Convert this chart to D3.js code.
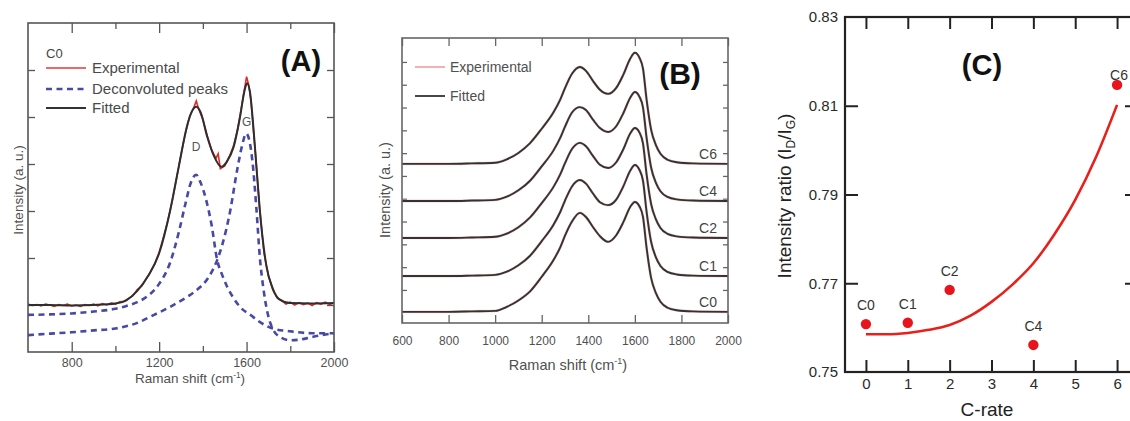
<!DOCTYPE html>
<html>
<head>
<meta charset="utf-8">
<script src="https://cdn.jsdelivr.net/npm/d3@7"></script>
<style>
  body { margin: 0; background: #fff; }
  svg { display: block; font-family: "Liberation Sans", Arial, Helvetica, sans-serif; }
</style>
</head>
<body>
<svg id="fig" width="1130" height="421"></svg>
<script>
// ---------- panel A : C0 spectrum with deconvolution ----------
const aExpX = [600,620,640,660,680,700,720,740,760,780,800,820,840,860,880,900,920,940,960,980,
  1000,1020,1040,1060,1080,1100,1120,1140,1160,1180,1200,1220,1240,1260,1280,1300,1320,1340,1360,1370,
  1380,1400,1420,1440,1460,1470,1480,1500,1520,1540,1560,1580,1600,1610,1620,1640,1660,1680,1700,1720,
  1740,1760,1780,1800,1820,1840,1860,1880,1900,1920,1940,1960,1980,2000];
const aExpY = [1.02,0.99,1.01,0.98,1.02,1.00,0.97,1.01,0.99,1.02,0.98,1.00,0.97,1.01,0.99,1.02,0.98,1.03,1.00,1.04,
  1.02,1.07,1.08,1.14,1.20,1.33,1.40,1.55,1.70,1.88,2.12,2.45,2.80,3.22,3.70,4.20,4.65,5.02,5.22,5.34,
  5.18,4.95,4.60,4.30,4.12,4.22,3.90,3.96,4.15,4.38,4.75,5.30,5.86,5.68,5.35,4.25,3.05,2.10,1.62,1.32,
  1.15,1.10,1.02,1.06,1.00,1.05,1.01,1.04,0.99,1.05,1.02,1.06,1.01,1.05];

const aFitX = [600,700,800,900,1000,1050,1100,1150,1200,1250,1290,1330,1350,1370,1390,1420,1450,1485,
  1510,1540,1570,1590,1602,1615,1630,1645,1660,1690,1720,1750,1800,1900,2000];
const aFitY = [1.00,1.00,0.99,1.00,1.03,1.10,1.30,1.62,2.10,3.00,3.95,4.85,5.12,5.22,5.10,4.58,4.18,3.94,
  4.05,4.35,5.00,5.55,5.72,5.55,4.85,3.95,3.05,1.85,1.35,1.12,1.04,1.03,1.04];

const aDX = [600,700,800,900,1000,1050,1100,1150,1200,1250,1290,1320,1345,1369,1390,1417,1440,1465,
  1490,1510,1540,1570,1620,1660,1720,1800,1900,2000];
const aDY = [0.79,0.80,0.82,0.86,0.92,0.98,1.06,1.20,1.45,1.90,2.55,3.15,3.60,3.77,3.60,3.20,2.70,1.97,
  1.62,1.40,1.15,0.96,0.78,0.64,0.50,0.44,0.40,0.40];

const aGX = [600,700,800,900,1000,1100,1172,1250,1327,1380,1420,1465,1490,1525,1556,1580,1598,1615,
  1627,1645,1661,1677,1692,1721,1760,1800,1840,1900,2000];
const aGY = [0.36,0.39,0.42,0.46,0.50,0.62,0.78,0.96,1.17,1.35,1.55,1.95,2.30,3.00,3.85,4.40,4.65,4.45,
  4.05,3.05,2.00,1.35,0.92,0.48,0.30,0.25,0.26,0.32,0.40];

const aMajorTicks = [800, 1200, 1600, 2000];
const aMinorTicks = [1000, 1400, 1800];
const aYTicks = [1, 2, 3, 4, 5, 6];
const aPeakNames = ['D', 'G'];
const aPeakX = [1369, 1600];
const aPeakY = [4.36, 4.89];

// ---------- panel B : stacked spectra ----------
const bX = [600,700,800,900,1000,1050,1100,1150,1200,1250,1280,1300,1330,1364,1390,1420,1450,1485,
  1520,1550,1580,1600,1620,1635,1650,1670,1690,1710,1740,1780,1850,2000];
const bC0 = [-96,-96,-96,-94,-92,-74,-46,-6,58,130,188,238,300,338,320,276,236,211,
  240,296,364,386,366,320,188,52,-13,-52,-78,-89,-94,-96];
const bC1 = [61,61,61,63,66,80,108,150,214,285,343,392,454,482,466,423,385,372,
  396,453,523,548,526,479,346,210,144,105,79,68,63,61];
const bC2 = [228,228,228,230,233,247,275,318,381,451,508,556,618,645,630,588,549,535,
  560,616,686,710,690,642,510,376,311,272,246,235,230,228];
const bC4 = [390,390,390,392,395,409,437,479,542,611,668,716,778,802,789,747,710,693,
  718,774,843,868,847,800,670,536,471,433,408,397,392,390];
const bC6 = [553,553,553,555,558,573,601,644,707,778,836,885,948,978,961,917,878,860,
  886,943,1014,1040,1018,970,838,702,636,597,571,560,555,553];
const bNames = ['C0', 'C1', 'C2', 'C4', 'C6'];
const bXTicks = [600, 800, 1000, 1200, 1400, 1600, 1800, 2000];
const bYTicks = [0, 100, 200, 300, 400, 500, 600, 700, 800, 900, 1000];

// ---------- panel C : intensity ratio vs C-rate ----------
const cRate = [0, 1, 2, 4, 6];
const cRatio = [0.7608, 0.7611, 0.7685, 0.7561, 0.8147];
const cNames = ['C0', 'C1', 'C2', 'C4', 'C6'];
const cFitX = [0, 0.5, 1, 1.5, 2, 2.5, 3, 3.5, 4, 4.5, 5, 5.5, 6];
const cFitY = [0.7585, 0.7585, 0.7588, 0.7595, 0.7606, 0.7627, 0.7658, 0.7697, 0.7745, 0.7810, 0.7888, 0.7985, 0.8102];
const cXTicks = [0, 1, 2, 3, 4, 5, 6];
const cYTicks = [0.75, 0.77, 0.79, 0.81, 0.83];

const svg = d3.select('#fig');
svg.append('rect').attr('width', 1130).attr('height', 421).attr('fill', '#fff');

const zip = (xs, ys) => xs.map((x, i) => [x, ys[i]]);

// inward ticks on one side of a frame
function ticks(gen, scale, values, len, pos, o) {
  const a = gen(scale).tickValues(values).tickSizeInner(-len).tickSizeOuter(0)
    .tickPadding(o.pad || 4).tickFormat(o.labels ? (o.fmt || (d => d)) : '');
  const g = svg.append('g').attr('transform', pos).call(a)
    .attr('font-family', null).attr('font-size', null);
  g.select('.domain').remove();
  g.selectAll('.tick line').attr('stroke', o.color).attr('stroke-width', o.width);
  g.selectAll('.tick text').attr('fill', o.text || '#555').style('font-size', (o.size || 12) + 'px');
  return g;
}

function frame(x, y, color, width) {
  const [x0, x1] = x.range(), [y0, y1] = y.range();
  svg.append('rect').attr('x', x0).attr('y', y1).attr('width', x1 - x0).attr('height', y0 - y1)
    .attr('fill', 'none').attr('stroke', color).attr('stroke-width', width);
}

function ramanTitle(x, y, size, color) {
  const t = svg.append('text').attr('x', x).attr('y', y).attr('text-anchor', 'middle')
    .attr('fill', color).style('font-size', size + 'px');
  t.append('tspan').text('Raman shift (cm');
  t.append('tspan').attr('dy', -size * 0.4).style('font-size', (size * 0.62) + 'px').text('-1');
  t.append('tspan').attr('dy', size * 0.4).text(')');
}

function vTitle(x, y, size, color, str) {
  return svg.append('text').attr('transform', `translate(${x},${y}) rotate(-90)`)
    .attr('text-anchor', 'middle').attr('fill', color).style('font-size', size + 'px').text(str);
}

// ================= Panel A =================
{
  const x = d3.scaleLinear().domain([600, 2000]).range([28, 334]);
  const y = d3.scaleLinear().domain([0, 7]).range([352, 23]);
  const line = d3.line().x(d => x(d[0])).y(d => y(d[1]));
  const st = { color: '#555', width: 1.3 };

  ticks(d3.axisBottom, x, aMajorTicks, 10, 'translate(0,352)', { ...st, labels: true, pad: 6, size: 12.5, text: '#505050' });
  ticks(d3.axisBottom, x, aMinorTicks, 6, 'translate(0,352)', st);
  ticks(d3.axisTop, x, aMajorTicks, 10, 'translate(0,23)', st);
  ticks(d3.axisTop, x, aMinorTicks, 6, 'translate(0,23)', st);
  ticks(d3.axisLeft, y, aYTicks, 7, 'translate(28,0)', st);
  ticks(d3.axisRight, y, aYTicks, 7, 'translate(334,0)', st);

  const plot = svg.append('g');
  const dash = { stroke: '#4848a6', w: 2.6 };
  plot.append('path').datum(zip(aDX, aDY)).attr('d', line.curve(d3.curveMonotoneX))
    .attr('fill', 'none').attr('stroke', dash.stroke).attr('stroke-width', dash.w).attr('stroke-dasharray', '6,4.5');
  plot.append('path').datum(zip(aGX, aGY)).attr('d', line.curve(d3.curveMonotoneX))
    .attr('fill', 'none').attr('stroke', dash.stroke).attr('stroke-width', dash.w).attr('stroke-dasharray', '6,4.5');
  plot.append('path').datum(zip(aExpX, aExpY)).attr('d', line.curve(d3.curveLinear))
    .attr('fill', 'none').attr('stroke', '#e02a2a').attr('stroke-width', 1.6);
  plot.append('path').datum(zip(aFitX, aFitY)).attr('d', line.curve(d3.curveMonotoneX))
    .attr('fill', 'none').attr('stroke', '#2e2e2e').attr('stroke-width', 2);

  aPeakNames.forEach((n, i) => {
    svg.append('text').attr('x', x(aPeakX[i])).attr('y', y(aPeakY[i]) + 4).attr('text-anchor', 'middle')
      .attr('fill', '#555').style('font-size', '12px').text(n);
  });

  frame(x, y, '#555', 1.6);

  // legend
  svg.append('text').attr('x', 46).attr('y', 58).attr('fill', '#444').style('font-size', '13px').text('C0');
  const leg = [
    { label: 'Experimental', stroke: '#e03a3a', w: 1.3, dash: null, y: 68 },
    { label: 'Deconvoluted peaks', stroke: '#4848a6', w: 2.6, dash: '6,4.5', y: 89 },
    { label: 'Fitted', stroke: '#333', w: 2, dash: null, y: 108 }
  ];
  leg.forEach(l => {
    svg.append('line').attr('x1', 46).attr('x2', 86).attr('y1', l.y).attr('y2', l.y)
      .attr('stroke', l.stroke).attr('stroke-width', l.w).attr('stroke-dasharray', l.dash);
    svg.append('text').attr('x', 92).attr('y', l.y + 5).attr('fill', '#4a4a4a').style('font-size', '15px').text(l.label);
  });

  svg.append('text').attr('x', 301).attr('y', 71).attr('text-anchor', 'middle')
    .attr('fill', '#111').style('font-size', '29px').style('font-weight', 'bold').text('(A)');

  ramanTitle(190, 383, 13.5, '#505050');
  vTitle(23, 190, 13.5, '#505050', 'Intensity (a. u.)');
}

// ================= Panel B =================
{
  const x = d3.scaleLinear().domain([600, 2000]).range([402, 728]);
  const y = d3.scaleLinear().domain([-145, 1105]).range([323, 38]);
  const line = d3.line().x(d => x(d[0])).y(d => y(d[1])).curve(d3.curveMonotoneX);
  const st = { color: '#666', width: 1.3 };

  ticks(d3.axisBottom, x, bXTicks, 8, 'translate(0,323)', { ...st, labels: true, pad: 13, size: 12, text: '#505050' });
  ticks(d3.axisTop, x, bXTicks, 8, 'translate(0,38)', st);
  ticks(d3.axisLeft, y, bYTicks, 5, 'translate(402,0)', st);
  ticks(d3.axisRight, y, bYTicks, 5, 'translate(728,0)', st);

  const series = [bC0, bC1, bC2, bC4, bC6];
  series.forEach((s, i) => {
    const pts = zip(bX, s);
    svg.append('path').datum(pts).attr('d', line).attr('fill', 'none')
      .attr('stroke', '#f2a6a6').attr('stroke-width', 2.8).attr('opacity', 0.55);
    svg.append('path').datum(pts).attr('d', line).attr('fill', 'none')
      .attr('stroke', '#333').attr('stroke-width', 1.9);
    svg.append('text').attr('x', 717).attr('y', y(s[s.length - 1]) - 5).attr('text-anchor', 'end')
      .attr('fill', '#444').style('font-size', '14px').text(bNames[i]);
  });

  frame(x, y, '#666', 1.6);

  const leg = [
    { label: 'Experimental', stroke: '#ee9090', w: 1.4, y: 67 },
    { label: 'Fitted', stroke: '#333', w: 1.8, y: 96 }
  ];
  leg.forEach(l => {
    svg.append('line').attr('x1', 415).attr('x2', 445).attr('y1', l.y).attr('y2', l.y)
      .attr('stroke', l.stroke).attr('stroke-width', l.w);
    svg.append('text').attr('x', 450).attr('y', l.y + 5).attr('fill', '#505050').style('font-size', '14px').text(l.label);
  });

  svg.append('text').attr('x', 680).attr('y', 84).attr('text-anchor', 'middle')
    .attr('fill', '#111').style('font-size', '30px').style('font-weight', 'bold').text('(B)');

  ramanTitle(568, 370, 14.5, '#505050');
  vTitle(390, 190, 14.5, '#505050', 'Intensity (a. u.)');
}

// ================= Panel C =================
{
  const x = d3.scaleLinear().domain([-0.5, 6.5]).range([845, 1138]);
  const y = d3.scaleLinear().domain([0.75, 0.83]).range([372, 17]);
  const st = { color: '#222', width: 2 };

  ticks(d3.axisBottom, x, cXTicks, 12, 'translate(0,372)', { ...st, labels: true, pad: 6, size: 15, text: '#2a2a2a' });
  ticks(d3.axisTop, x, cXTicks, 12, 'translate(0,17)', st);
  ticks(d3.axisLeft, y, cYTicks.slice(1, -1), 13, 'translate(845,0)', st);
  ticks(d3.axisLeft, y, cYTicks, 0, 'translate(845,0)', { ...st, labels: true, pad: 7, size: 15, text: '#2a2a2a', fmt: d3.format('.2f') });
  ticks(d3.axisRight, y, cYTicks.slice(1, -1), 13, 'translate(1138,0)', st);

  svg.append('path').datum(zip(cFitX, cFitY))
    .attr('d', d3.line().x(d => x(d[0])).y(d => y(d[1])).curve(d3.curveMonotoneX))
    .attr('fill', 'none').attr('stroke', '#e8201c').attr('stroke-width', 2.6);

  const nudge = { C6: [2, 9] };
  cRate.forEach((r, i) => {
    svg.append('circle').attr('cx', x(r)).attr('cy', y(cRatio[i])).attr('r', 5.2).attr('fill', '#e8141c');
    const [dx, dy] = nudge[cNames[i]] || [0, 0];
    svg.append('text').attr('x', x(r) + dx).attr('y', y(cRatio[i]) - 14 + dy).attr('text-anchor', 'middle')
      .attr('fill', '#333').style('font-size', '14px').text(cNames[i]);
  });

  frame(x, y, '#222', 2.2);

  svg.append('text').attr('x', 982).attr('y', 75).attr('text-anchor', 'middle')
    .attr('fill', '#111').style('font-size', '29px').style('font-weight', 'bold').text('(C)');

  svg.append('text').attr('x', 987).attr('y', 416).attr('text-anchor', 'middle')
    .attr('fill', '#222').style('font-size', '19px').text('C-rate');

  const t = svg.append('text').attr('transform', 'translate(791,196) rotate(-90)')
    .attr('text-anchor', 'middle').attr('fill', '#222').style('font-size', '19px');
  t.append('tspan').text('Intensity ratio (I');
  t.append('tspan').attr('dy', 4).style('font-size', '12px').text('D');
  t.append('tspan').attr('dy', -4).text('/I');
  t.append('tspan').attr('dy', 4).style('font-size', '12px').text('G');
  t.append('tspan').attr('dy', -4).text(')');
}
</script>
</body>
</html>
